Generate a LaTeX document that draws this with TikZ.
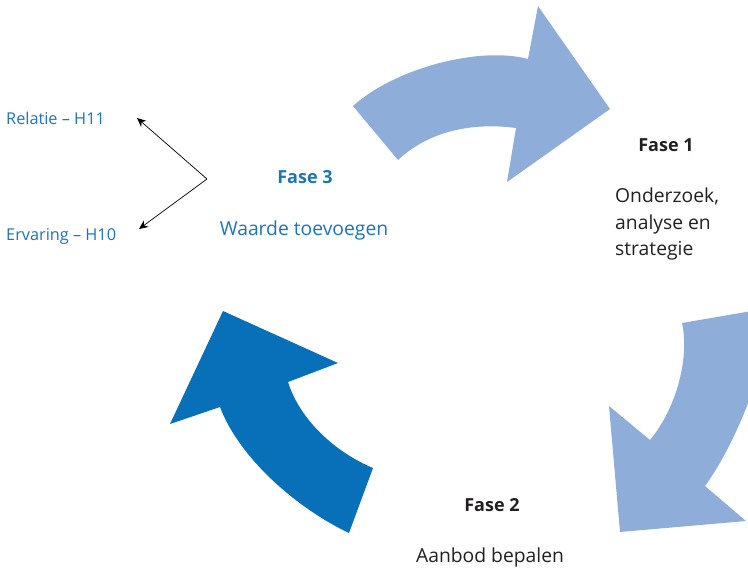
\documentclass[tikz,border=0pt]{standalone}
\usepackage{fontspec}
\setmainfont{Open Sans}
\usetikzlibrary{arrows.meta}
\definecolor{lightarrow}{RGB}{142,173,217}
\definecolor{darkarrow}{RGB}{8,112,185}
\definecolor{phaseblue}{RGB}{27,117,188}
\definecolor{phasegray}{RGB}{35,31,32}
\tikzset{
  lightshape/.style={fill=lightarrow, draw=none},
  darkshape/.style={fill=darkarrow, draw=none},
  phasetitle/.style={font=\fontsize{18}{20}\selectfont\bfseries, inner sep=0pt},
  phasetext/.style={font=\fontsize{19.3}{26.5}\selectfont, inner sep=0pt},
  chapter/.style={font=\fontsize{16.3}{18}\selectfont, text=phaseblue, inner sep=0pt, anchor=west},
  pointer/.style={draw=black, line width=0.7pt, -{Stealth[length=9pt,width=8pt]}}
}
\begin{document}
\begin{tikzpicture}[x=1pt,y=-1pt]
\useasboundingbox (0,0) rectangle (748,571);
\clip (0,0) rectangle (748,571);

% Top arrow: towards phase 1
\path[lightshape] (353,106) .. controls (395,68) and (480,46) .. (528,59)
  -- (538,6) -- (610,109) -- (507,182) -- (516,128)
  .. controls (470,122) and (428,132) .. (398,160) -- cycle;

% Right arrow: towards phase 2
\path[lightshape] (682,323) -- (775,307)
  .. controls (765,370) and (735,445) .. (705,486)
  -- (746,521) -- (620,532) -- (609,406) -- (650,440)
  .. controls (675,410) and (690,360) .. (682,323) -- cycle;

% Left arrow: towards phase 3
\path[darkshape] (223,311) -- (338,363) -- (288,382)
  .. controls (300,420) and (335,452) .. (373,468)
  -- (349,533)
  .. controls (300,510) and (240,460) .. (220,407)
  -- (170,424) -- cycle;

% Phase labels
\node[phasetitle, text=phasegray] (f1) at (666,145) {Fase 1};
\node[phasetext, text=phasegray, align=left, anchor=north west] (f1t) at (615,188)
  {Onderzoek,\\analyse en\\strategie};
\node[phasetitle, text=phasegray] (f2) at (492,505) {Fase 2};
\node[phasetext, text=phasegray] (f2t) at (490,557) {Aanbod bepalen};
\node[phasetitle, text=phaseblue] (f3) at (305,177) {Fase 3};
\node[phasetext, text=phaseblue] (f3t) at (304,230) {Waarde toevoegen};

% Chapter references
\node[chapter] (h11) at (6,118) {Relatie – H11};
\node[chapter] (h10) at (6,236) {Ervaring – H10};
\coordinate (fork) at (207,179);
\coordinate (tip11) at (137,118);
\coordinate (tip10) at (139,229);
\draw[pointer] (fork) -- (tip11);
\draw[pointer] (fork) -- (tip10);
\end{tikzpicture}
\end{document}
